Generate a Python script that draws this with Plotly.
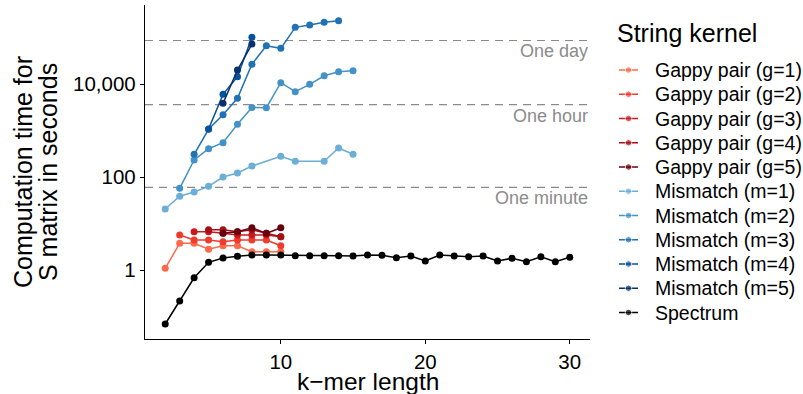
import math
import plotly.graph_objects as go

# Computation time (seconds) of the S matrix per string kernel and k-mer length
SPECTRUM_K0 = 2
SPECTRUM = [0.069, 0.215, 0.68, 1.46, 1.81, 1.97, 2.09, 2.09, 2.09, 2.03, 2.03, 2.03,
            2.03, 2.0, 2.10, 2.08, 1.84, 2.0, 1.56, 2.10, 2.0, 1.93, 2.0, 1.56, 1.79,
            1.51, 1.93, 1.51, 1.88]

MISMATCH_M1 = [20.5, 38.5, 47.6, 63, 100, 122, 172, None, 279, 218, None, 218, 421, 308]
MISMATCH_M2 = [57, 232, 406, 547, 1366, 3124, 3093, 10670, 6830, 9860, 15080, 18400, 19320]
MISMATCH_M3 = [308, 1062, 2188, 4925, 26670, 66650, 58600, 165600, 185600, 212300, 229700]
MISMATCH_M4 = [1077, 6000, 14360, 100900]
MISMATCH_M5 = [3845, 20000, 72450]

GAPPY_G1 = [1.09, 3.75, 3.75, 2.79, 3.33, 3.33, 2.47, 2.47, 2.47]
GAPPY_G2 = [5.66, 4.42, 4.42, 4.06, 4.42, 4.42, 4.42, 3.33]
GAPPY_G3 = [6.66, 6.66, 6.15, 5.66, 5.66, 5.66, 5.2]
GAPPY_G4 = [7.36, 7.36, 6.66, 7.36, 6.15, 5.2]
GAPPY_G5 = [6.15, 6.66, 8.12, 6.15, 8.12]

# first k-mer length of each series
FIRST_K = [2, 3, 4, 5, 6, 2, 3, 4, 5, 6, SPECTRUM_K0]

SERIES_NAMES = ["Gappy pair (g=1)", "Gappy pair (g=2)", "Gappy pair (g=3)",
                "Gappy pair (g=4)", "Gappy pair (g=5)", "Mismatch (m=1)",
                "Mismatch (m=2)", "Mismatch (m=3)", "Mismatch (m=4)",
                "Mismatch (m=5)", "Spectrum"]
SERIES_VALUES = [GAPPY_G1, GAPPY_G2, GAPPY_G3, GAPPY_G4, GAPPY_G5,
                 MISMATCH_M1, MISMATCH_M2, MISMATCH_M3, MISMATCH_M4, MISMATCH_M5,
                 SPECTRUM]
SERIES_COLORS = ["#fb6a4a", "#ef3b2c", "#cb181d", "#a50f15", "#67000d",
                 "#6baed6", "#4292c6", "#2171b5", "#08519c", "#08306b", "#000000"]

REF_SECONDS = [60, 3600, 86400]
REF_LABELS = ["One minute", "One hour", "One day"]

X_TICKS = [10, 20, 30]
Y_TICKS = [1, 100, 10000]
Y_TICK_TEXT = ["1", "100", "10,000"]

FONT = "Liberation Sans, Arial, sans-serif"
W, H = 803, 394
X_RANGE = [0.6, 31.4]
Y_RANGE = [-1.484, 5.70]

fig = go.Figure()

# reference durations as dashed horizontal lines
for sec in REF_SECONDS:
    fig.add_trace(go.Scatter(x=X_RANGE, y=[sec, sec], mode="lines",
                             line=dict(color="#8a8a8a", width=1.2, dash="8px,6px"),
                             showlegend=False, hoverinfo="skip"))

for name, vals, k0, col in zip(SERIES_NAMES, SERIES_VALUES, FIRST_K, SERIES_COLORS):
    ks = list(range(k0, k0 + len(vals)))
    fig.add_trace(go.Scatter(x=ks, y=vals, mode="lines+markers", name=name,
                             connectgaps=True, showlegend=False,
                             line=dict(color=col, width=1.5),
                             marker=dict(color=col, size=7)))

# legend keys drawn on a pixel-scaled helper axis to the right of the panel
LEG_X0 = 0.75 * W
item_y = [70 + i * 24.25 for i in range(len(SERIES_NAMES))]
for name, col, yy in zip(SERIES_NAMES, SERIES_COLORS, item_y):
    fig.add_trace(go.Scatter(x=[619, 628.5, 638], y=[yy, yy, yy], mode="lines+markers",
                             xaxis="x2", yaxis="y2", showlegend=False, hoverinfo="skip",
                             line=dict(color=col, width=1.5),
                             marker=dict(color=col, size=[0, 6.5, 0])))

annotations = []
for name, yy in zip(SERIES_NAMES, item_y):
    annotations.append(dict(text=name, x=653, y=yy, xref="x2", yref="y2",
                            xanchor="left", yanchor="middle", showarrow=False,
                            font=dict(size=19.5, color="#000000", family=FONT)))
annotations.append(dict(text="String kernel", x=615, y=33, xref="x2", yref="y2",
                        xanchor="left", yanchor="middle", showarrow=False,
                        font=dict(size=25, color="#000000", family=FONT)))

for sec, lab in zip(REF_SECONDS, REF_LABELS):
    annotations.append(dict(text=lab, x=X_RANGE[1], y=math.log10(sec), xref="x", yref="y",
                            xanchor="right", yanchor="top", showarrow=False, yshift=1,
                            font=dict(size=18, color="#8c8c8c", family=FONT)))

# axis titles
annotations.append(dict(text="k\u2212mer length", x=367.5 / W, y=1 - 381 / H,
                        xref="paper", yref="paper", xanchor="center", yanchor="middle",
                        showarrow=False, font=dict(size=24.5, color="#000000", family=FONT)))
for txt, cx in (("Computation time for", 23), ("S matrix in seconds", 48)):
    annotations.append(dict(text=txt, x=cx / W, y=1 - 172 / H, xref="paper", yref="paper",
                            xanchor="center", yanchor="middle", textangle=-90,
                            showarrow=False, font=dict(size=25, color="#000000", family=FONT)))

axis_common = dict(showgrid=False, zeroline=False, showline=True, linecolor="#000000",
                   linewidth=1.3, ticks="outside", ticklen=4, tickwidth=1.2,
                   tickcolor="#000000", tickfont=dict(size=20.5, color="#000000", family=FONT))

fig.update_layout(
    width=W, height=H,
    margin=dict(l=0, r=0, t=0, b=0),
    paper_bgcolor="#ffffff", plot_bgcolor="rgba(0,0,0,0)",
    xaxis=dict(domain=[145 / W, 590 / W], range=X_RANGE, tickvals=X_TICKS, **axis_common),
    yaxis=dict(domain=[1 - 339 / H, 1 - 5 / H], type="log", range=Y_RANGE,
               tickvals=Y_TICKS, ticktext=Y_TICK_TEXT, **axis_common),
    xaxis2=dict(domain=[0.75, 1], range=[LEG_X0, W], visible=False, anchor="y2"),
    yaxis2=dict(domain=[0, 1], range=[H, 0], visible=False, anchor="x2"),
    annotations=annotations,
    font=dict(family=FONT),
)

fig.write_html("out.html")
